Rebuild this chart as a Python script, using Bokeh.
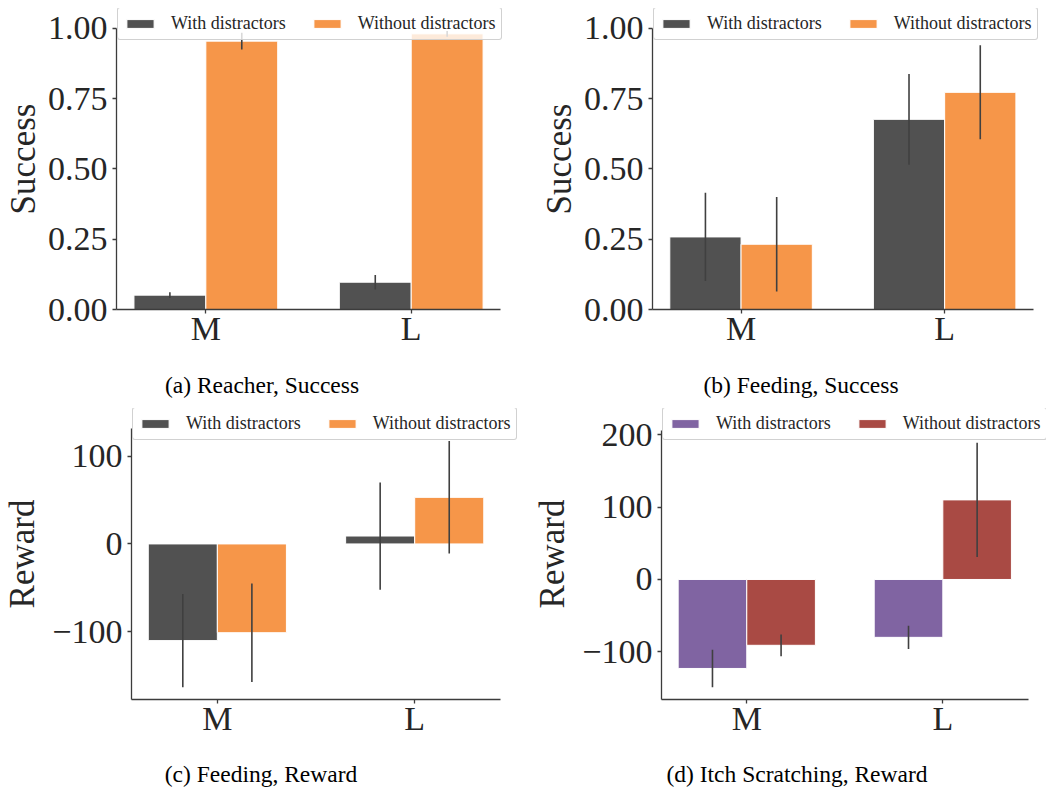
from bokeh.plotting import figure
from bokeh.models import Range1d, FixedTicker, Legend, LegendItem, Label, ColumnDataSource
from bokeh.layouts import column, row
from bokeh.embed import file_html
from bokeh.resources import INLINE

categories = ["M", "L"]
series_names = ["With distractors", "Without distractors"]

# (a) Reacher, Success
a_with = [0.051, 0.097]
a_with_err = [0.010, 0.026]
a_without = [0.954, 0.980]
a_without_err = [0.030, 0.010]

# (b) Feeding, Success
b_with = [0.258, 0.676]
b_with_err = [0.157, 0.161]
b_without = [0.232, 0.772]
b_without_err = [0.168, 0.167]

# (c) Feeding, Reward
c_with = [-110, 9]
c_with_err = [53, 61]
c_without = [-101, 53]
c_without_err = [56, 64]

# (d) Itch Scratching, Reward
d_with = [-123, -80]
d_with_err = [26, 16]
d_without = [-91, 110]
d_without_err = [15, 79]

succ_ticks = [0, 0.25, 0.5, 0.75, 1.0]
succ_labels = ["0.00", "0.25", "0.50", "0.75", "1.00"]
c_ticks = [-100, 0, 100]
c_labels = ["\u2212100", "0", "100"]
d_ticks = [-100, 0, 100, 200]
d_labels = ["\u2212100", "0", "100", "200"]

captions = ["(a) Reacher, Success", "(b) Feeding, Success",
            "(c) Feeding, Reward", "(d) Itch Scratching, Reward"]
ylabels = ["Success", "Success", "Reward", "Reward"]

GRAY, ORANGE = "#515151", "#F69649"
PURPLE, RED = "#8064A2", "#A94A44"
TXT = "#262626"
AX = "#3c3c3c"
SERIF = "Liberation Serif"
X_LO, X_HI = -0.435, 1.435


def auto_range(vals, errs):
    lo = min(min(v - e for v, e in zip(vs, es)) for vs, es in zip(vals, errs))
    hi = max(max(v + e for v, e in zip(vs, es)) for vs, es in zip(vals, errs))
    pad = 0.05 * (hi - lo)
    return (lo - pad, hi + pad)


def panel(wv, we, ov, oe, colors, ylabel, yticks, ylabs, yr,
          W, H, bl, br, bt, bb, ref_fw, ref_fh, leg_loc, label_standoff):
    fw = W - bl - br
    fh = H - bt - bb
    lo, hi = yr
    y_end = lo + (hi - lo) * fh / ref_fh
    x_end = X_LO + (X_HI - X_LO) * fw / ref_fw
    p = figure(width=W, height=H, output_backend="svg", toolbar_location=None,
               x_range=Range1d(X_LO, x_end), y_range=Range1d(lo, y_end),
               min_border_left=bl, min_border_right=br,
               min_border_top=bt, min_border_bottom=bb)
    p.background_fill_color = "white"
    p.border_fill_color = "white"
    p.outline_line_color = None
    p.xgrid.visible = False
    p.ygrid.visible = False

    renderers = []
    for k, (vals, errs, col) in enumerate([(wv, we, colors[0]), (ov, oe, colors[1])]):
        off = -0.175 if k == 0 else 0.175
        xs = [i + off for i in range(len(categories))]
        src = ColumnDataSource(dict(
            x=xs, top=vals,
            lo=[v - e for v, e in zip(vals, errs)],
            hi=[v + e for v, e in zip(vals, errs)]))
        r = p.vbar(x="x", top="top", bottom=0, width=0.35, source=src,
                   fill_color=col, line_color="white", line_width=1)
        p.segment(x0="x", y0="lo", x1="x", y1="hi", source=src,
                  line_color="#404040", line_width=1.6)
        renderers.append(r)

    p.xaxis.ticker = FixedTicker(ticks=list(range(len(categories))))
    p.xaxis.major_label_overrides = {i: c for i, c in enumerate(categories)}
    p.xaxis.bounds = (X_LO, X_HI)
    p.yaxis.ticker = FixedTicker(ticks=yticks)
    p.yaxis.major_label_overrides = dict(zip(yticks, ylabs))
    p.yaxis.bounds = (lo, hi)
    for ax in (p.xaxis[0], p.yaxis[0]):
        ax.axis_line_color = AX
        ax.axis_line_width = 1.3
        ax.major_tick_line_color = AX
        ax.major_tick_line_width = 1.3
        ax.major_tick_out = 4
        ax.major_tick_in = 0
        ax.minor_tick_out = 0
        ax.minor_tick_in = 0
        ax.major_label_text_font = SERIF
        ax.major_label_text_font_size = "34px"
        ax.major_label_text_color = TXT
        ax.major_label_standoff = 5
    p.xaxis.major_label_standoff = -4
    p.yaxis.axis_label = ylabel
    p.yaxis.axis_label_text_font = SERIF
    p.yaxis.axis_label_text_font_size = "35px"
    p.yaxis.axis_label_text_font_style = "normal"
    p.yaxis.axis_label_text_color = TXT
    p.yaxis.axis_label_standoff = label_standoff

    legend = Legend(
        items=[LegendItem(label=series_names[0], renderers=[renderers[0]]),
               LegendItem(label=series_names[1], renderers=[renderers[1]])],
        location=leg_loc, orientation="horizontal",
        glyph_width=34, glyph_height=11, label_standoff=14, spacing=24,
        padding=5, margin=0,
        label_text_font=SERIF, label_text_font_size="18px",
        label_text_color=TXT,
        background_fill_color="white", background_fill_alpha=0.8,
        border_line_color="#cccccc", border_line_alpha=0.9,
        border_line_width=1, border_radius=3)
    p.add_layout(legend, "center")
    return p


def caption_fig(text, W, H, cx, cy):
    c = figure(width=W, height=H, output_backend="svg", toolbar_location=None,
               x_axis_type=None, y_axis_type=None,
               x_range=Range1d(0, 1), y_range=Range1d(0, 1),
               min_border=0, min_border_left=0, min_border_right=0,
               min_border_top=0, min_border_bottom=0)
    c.outline_line_color = None
    c.background_fill_color = "white"
    c.border_fill_color = "white"
    c.add_layout(Label(x=cx, y=cy, x_units="screen", y_units="screen",
                       text=text, text_font=SERIF, text_font_size="23.5px",
                       text_color="black", text_align="center",
                       text_baseline="middle"))
    return c


pa = panel(a_with, a_with_err, a_without, a_without_err, (GRAY, ORANGE),
           ylabels[0], succ_ticks, succ_labels, (0, 1.0),
           520, 360, 115, 2, 8, 51, 385, 281.3, (1, 269.5), 2)
pb = panel(b_with, b_with_err, b_without, b_without_err, (GRAY, ORANGE),
           ylabels[1], succ_ticks, succ_labels, (0, 1.0),
           528, 360, 132, 2, 8, 51, 380.7, 281.3, (1, 269.5), 2)
ca = caption_fig(captions[0], 520, 48, 261.5, 24)
cb = caption_fig(captions[1], 528, 48, 280.5, 24)
pc = panel(c_with, c_with_err, c_without, c_without_err, (GRAY, ORANGE),
           ylabels[2], c_ticks, c_labels,
           auto_range([c_with, c_without], [c_with_err, c_without_err]),
           520, 350, 130, 2, 0, 59, 370, 270.7, (1, 259), 7)
pd = panel(d_with, d_with_err, d_without, d_without_err, (PURPLE, RED),
           ylabels[3], d_ticks, d_labels,
           auto_range([d_with, d_without], [d_with_err, d_without_err]),
           528, 350, 141, 2, 0, 59, 366.6, 269, (1, 259), 7)
cc = caption_fig(captions[2], 520, 29, 260.5, 14)
cd = caption_fig(captions[3], 528, 29, 276.5, 14)

layout = column(row(pa, pb), row(ca, cb), row(pc, pd), row(cc, cd))

with open("out.html", "w") as f:
    f.write(file_html(layout, INLINE))
